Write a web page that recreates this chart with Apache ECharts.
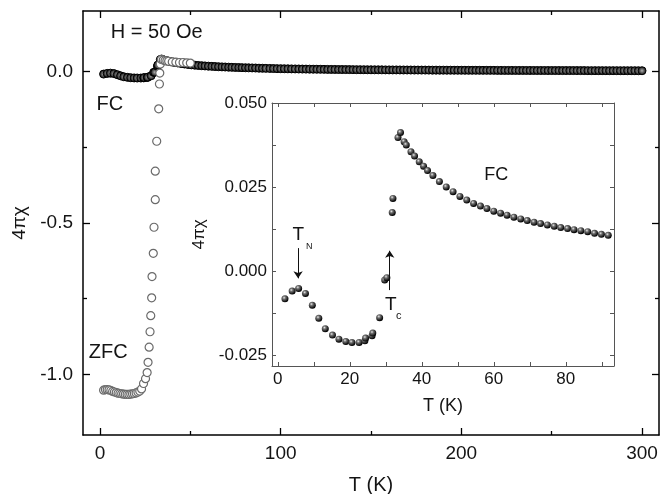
<!DOCTYPE html>
<html>
<head>
<meta charset="utf-8">
<script src="https://cdn.jsdelivr.net/npm/echarts@6/dist/echarts.min.js"></script>
<style>
html, body { margin: 0; padding: 0; background: #fff; }
#chart { width: 660px; height: 494px; }
</style>
</head>
<body>
<div id="chart"></div>
<script>
/*** FC, measured points (also shown in the inset) ***/
var fcT = [2.0, 4.0, 5.8, 7.7, 9.6, 11.4, 13.2, 15.2, 17.0, 18.9, 20.6, 22.6, 24.2, 24.4, 26.2, 26.4,
	28.3, 29.7, 30.3, 31.8, 32.0, 33.4, 34.1, 35.1, 35.7, 37.0, 38.0, 39.3, 40.5, 41.6, 43.1, 44.9,
	46.8, 48.7, 50.6, 52.5, 54.4, 56.3, 58.1, 60.0, 61.9, 63.7, 65.6, 67.5, 69.3, 71.2, 73.0, 74.9,
	76.8, 78.6, 80.5, 82.3, 84.2, 86.1, 88.0, 89.9, 91.8];
var fcChi = [-0.0083, -0.0060, -0.0052, -0.0067, -0.0102, -0.0141, -0.0172, -0.0191, -0.0203, -0.0210, -0.0213, -0.0213, -0.0208, -0.0200, -0.0193, -0.0185,
	-0.0139, -0.0027, -0.0020, 0.0174, 0.0216, 0.0397, 0.0412, 0.0385, 0.0375, 0.0355, 0.0342, 0.0325, 0.0312, 0.0299, 0.0284, 0.0266,
	0.0250, 0.0236, 0.0222, 0.0211, 0.0201, 0.0193, 0.0186, 0.0178, 0.0172, 0.0166, 0.0160, 0.0155, 0.0150, 0.0145, 0.0141, 0.0137,
	0.0133, 0.0129, 0.0126, 0.0123, 0.0120, 0.0117, 0.0112, 0.0109, 0.0106];

/*** FC above the inset range (main plot only) ***/
var fcHighT = [94, 96, 98, 100, 102, 104, 106, 108, 110, 112, 114, 116, 118, 120, 122, 124, 126, 128, 130, 132,
	134, 136, 138, 140, 142, 144, 146, 148, 150, 152, 154, 156, 158, 160, 162, 164, 166, 168, 170, 172,
	174, 176, 178, 180, 182, 184, 186, 188, 190, 192, 194, 196, 198, 200, 202, 204, 206, 208, 210, 212,
	214, 216, 218, 220, 222, 224, 226, 228, 230, 232, 234, 236, 238, 240, 242, 244, 246, 248, 250, 252,
	254, 256, 258, 260, 262, 264, 266, 268, 270, 272, 274, 276, 278, 280, 282, 284, 286, 288, 290, 292,
	294, 296, 298, 300];
var fcHighChi = [0.0103, 0.0100, 0.0097, 0.0095, 0.0093, 0.0091, 0.0089, 0.0087, 0.0085, 0.0083, 0.0081, 0.0080, 0.0078, 0.0077, 0.0075, 0.0074, 0.0072, 0.0071, 0.0070, 0.0068,
	0.0067, 0.0066, 0.0065, 0.0064, 0.0063, 0.0062, 0.0061, 0.0060, 0.0059, 0.0058, 0.0058, 0.0057, 0.0056, 0.0055, 0.0054, 0.0054, 0.0053, 0.0052, 0.0052, 0.0051,
	0.0050, 0.0050, 0.0049, 0.0049, 0.0048, 0.0047, 0.0047, 0.0046, 0.0046, 0.0045, 0.0045, 0.0044, 0.0044, 0.0043, 0.0043, 0.0042, 0.0042, 0.0042, 0.0041, 0.0041,
	0.0040, 0.0040, 0.0040, 0.0039, 0.0039, 0.0038, 0.0038, 0.0038, 0.0037, 0.0037, 0.0037, 0.0036, 0.0036, 0.0036, 0.0035, 0.0035, 0.0035, 0.0034, 0.0034, 0.0034,
	0.0034, 0.0033, 0.0033, 0.0033, 0.0033, 0.0032, 0.0032, 0.0032, 0.0031, 0.0031, 0.0031, 0.0031, 0.0031, 0.0030, 0.0030, 0.0030, 0.0030, 0.0029, 0.0029, 0.0029,
	0.0029, 0.0029, 0.0028, 0.0028];

/*** ZFC ***/
var zfcT = [2, 3, 4, 5, 6, 7, 8, 9, 10, 11, 12, 13, 14, 15, 16, 17, 18, 19, 20, 21, 22, 23,
	24.1, 25.2, 26.1, 26.6, 27.2, 27.7, 28.1, 28.6, 28.8, 29.5, 29.9, 30.6, 30.6, 31.4, 32.5, 32.9,
	33.1, 33.4, 34.0, 35.0, 36.0, 37.0, 38.0, 40.0, 42.0, 44.0, 46.0, 48.0, 50.0];
var zfcChi = [-1.052, -1.050, -1.050, -1.051, -1.053, -1.056, -1.058, -1.060, -1.062, -1.063, -1.064, -1.065, -1.066, -1.066, -1.066, -1.065, -1.064, -1.063, -1.061, -1.058, -1.055, -1.048,
	-1.030, -1.014, -0.994, -0.960, -0.910, -0.859, -0.806, -0.747, -0.677, -0.600, -0.514, -0.423, -0.329, -0.230, -0.123, -0.041,
	-0.005, 0.025, 0.040, 0.038, 0.036, 0.035, 0.034, 0.032, 0.031, 0.030, 0.030, 0.029, 0.028];

/*** ticks ***/
var mainXMajor = [0, 100, 200, 300];
var mainXMinor = [50, 150, 250];
var mainYMajor = [-1.0, -0.5, 0.0];
var mainYMinor = [-0.75, -0.25];
var insetXTicks = [0, 10, 20, 30, 40, 50, 60, 70, 80, 90];
var insetXLabels = [0, 20, 40, 60, 80];
var insetYTicks = [-0.025, -0.0125, 0, 0.0125, 0.025, 0.0375, 0.05];
var insetYLabels = [-0.025, 0, 0.025, 0.05];

var FONT = '"Liberation Sans", Arial, sans-serif';
var TXT = '#141414';

function pairs(xs, ys) {
	var out = [];
	for (var i = 0; i < xs.length; i++) out.push([xs[i], ys[i]]);
	return out;
}

// one axis layer: a set of inward ticks, optional labels
function axis(grid, pos, range, ticks, len, labels, lineOn, lineColor, extra) {
	var a = {
		type: 'value',
		gridIndex: grid,
		position: pos,
		min: range[0],
		max: range[1],
		axisLine: { show: lineOn, onZero: false, lineStyle: { color: lineColor, width: grid == 0 ? 1.5 : 1 } },
		axisTick: { show: true, inside: true, length: len, customValues: ticks, lineStyle: { color: lineColor, width: grid == 0 ? 1.3 : 1 } },
		axisLabel: { show: false },
		splitLine: { show: false }
	};
	if (labels) {
		a.axisLabel = { show: true, customValues: labels, color: TXT, fontSize: grid == 0 ? 19 : 17, fontFamily: FONT };
	}
	return echarts.util.merge(a, extra || {}, true);
}

var mainXR = [-9.4, 309.4], mainYR = [-1.2, 0.2];
var insXR = [-1.6, 93.4], insYR = [-0.0283, 0.05];

var sphere = {
	type: 'radial', x: 0.38, y: 0.34, r: 0.62,
	colorStops: [{ offset: 0, color: '#e8e8e8' }, { offset: 0.35, color: '#707070' }, { offset: 1, color: '#050505' }]
};
var ring = {
	type: 'radial', x: 0.5, y: 0.5, r: 0.5,
	colorStops: [{ offset: 0, color: '#b0b0b0' }, { offset: 0.5, color: '#555' }, { offset: 1, color: '#000' }]
};

function note(coord, text, size) {
	return {
		coord: coord, symbol: 'circle', symbolSize: 0,
		label: { show: true, position: 'inside', formatter: text, fontSize: size, color: TXT, fontFamily: FONT }
	};
}

var option = {
	animation: false,
	backgroundColor: '#fff',
	textStyle: { fontFamily: FONT },
	grid: [
		{ left: 83, top: 11, width: 576, height: 424, outerBoundsMode: 'none' },
		{ left: 272, top: 103, width: 342, height: 263, show: true, backgroundColor: '#fff', borderWidth: 0, outerBoundsMode: 'none' }
	],
	xAxis: [
		axis(0, 'bottom', mainXR, mainXMajor, 7, mainXMajor, true, '#000', {
			axisLabel: { margin: 9 }, name: 'T (K)', nameLocation: 'middle', nameGap: 40,
			nameTextStyle: { fontSize: 20, color: TXT, fontFamily: FONT }
		}),
		axis(0, 'bottom', mainXR, mainXMinor, 4, null, false, '#000'),
		axis(0, 'top', mainXR, mainXMajor, 7, null, true, '#000'),
		axis(0, 'top', mainXR, mainXMinor, 4, null, false, '#000'),
		axis(1, 'bottom', insXR, insetXTicks, 4, insetXLabels, true, '#555', {
			axisLabel: { margin: 5 }, name: 'T (K)', nameLocation: 'middle', nameGap: 31,
			nameTextStyle: { fontSize: 18, color: TXT, fontFamily: FONT }
		}),
		axis(1, 'top', insXR, insetXTicks, 4, null, true, '#555')
	],
	yAxis: [
		axis(0, 'left', mainYR, mainYMajor, 7, mainYMajor, true, '#000', {
			axisLabel: { margin: 10, formatter: function (v) { return v.toFixed(1); } },
			name: '4πχ', nameLocation: 'middle', nameGap: 52,
			nameTextStyle: { fontSize: 19, color: TXT, fontFamily: FONT }
		}),
		axis(0, 'left', mainYR, mainYMinor, 4, null, false, '#000'),
		axis(0, 'right', mainYR, mainYMajor, 7, null, true, '#000'),
		axis(0, 'right', mainYR, mainYMinor, 4, null, false, '#000'),
		axis(1, 'left', insYR, insetYTicks, 4, insetYLabels, true, '#555', {
			axisLabel: { margin: 5, formatter: function (v) { return v.toFixed(3); } },
			name: '4πχ', nameLocation: 'middle', nameGap: 64,
			nameTextStyle: { fontSize: 17, color: TXT, fontFamily: FONT }
		}),
		axis(1, 'right', insYR, insetYTicks, 4, null, true, '#555')
	],
	series: [
		{
			name: 'FC',
			type: 'scatter',
			xAxisIndex: 0, yAxisIndex: 0,
			data: pairs(fcT.concat(fcHighT), fcChi.concat(fcHighChi)),
			symbolSize: 8,
			itemStyle: { color: ring, borderColor: '#000', borderWidth: 1, opacity: 1 },
			silent: true,
			markPoint: {
				silent: true,
				data: [
					note([31.4, 0.129], 'H = 50 Oe', 20),
					note([5.5, -0.109], 'FC', 20),
					note([4.6, -0.929], 'ZFC', 20)
				]
			}
		},
		{
			name: 'ZFC',
			type: 'scatter',
			xAxisIndex: 0, yAxisIndex: 0,
			data: pairs(zfcT, zfcChi),
			symbolSize: 8,
			itemStyle: { color: '#fff', borderColor: '#6a6a6a', borderWidth: 1.2, opacity: 1 },
			silent: true
		},
		{
			name: 'FC inset',
			type: 'scatter',
			xAxisIndex: 4, yAxisIndex: 4,
			data: pairs(fcT, fcChi),
			symbolSize: 7,
			itemStyle: { color: sphere, opacity: 1 },
			silent: true,
			markLine: {
				silent: true,
				symbol: ['none', 'arrow'],
				symbolSize: 7,
				label: { show: false },
				lineStyle: { color: '#111', width: 1, type: 'solid' },
				data: [
					[{ coord: [5.65, 0.0068] }, { coord: [5.65, -0.0022] }],
					[{ coord: [31.1, -0.0057] }, { coord: [31.1, 0.0060] }]
				]
			},
			markPoint: {
				silent: true,
				data: [
					note([60.7, 0.0286], 'FC', 18),
					note([5.7, 0.0107], 'T', 19),
					note([8.75, 0.0074], 'N', 9),
					note([31.4, -0.0101], 'T', 19),
					note([33.6, -0.0134], 'c', 11)
				]
			}
		}
	]
};

var chart = echarts.init(document.getElementById('chart'));
chart.setOption(option);
</script>
</body>
</html>
